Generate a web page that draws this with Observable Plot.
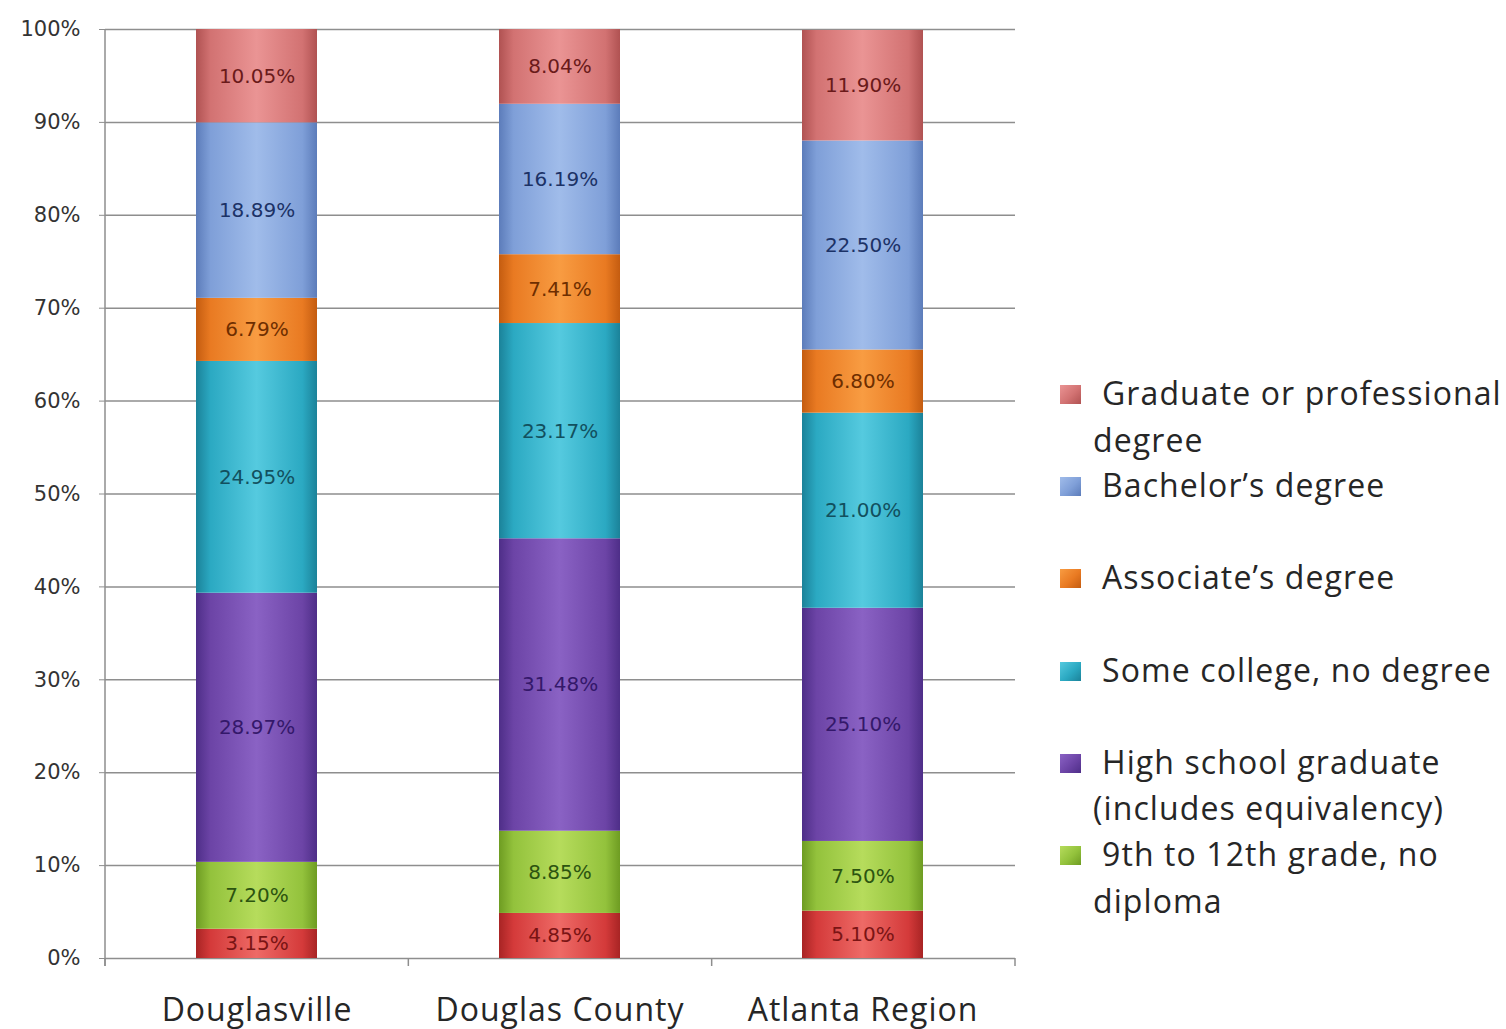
<!DOCTYPE html>
<html><head><meta charset="utf-8">
<script src="https://cdn.jsdelivr.net/npm/d3@7"></script>
<script src="https://cdn.jsdelivr.net/npm/@observablehq/plot@0.6"></script>
<style>
html,body{margin:0;padding:0;background:#fff;}
body{width:1506px;height:1029px;overflow:hidden;position:relative;font-family:"Open Sans",Lato,sans-serif;}
#chart{position:absolute;left:0;top:0;}
#legend{position:absolute;left:0;top:0;}
.entry{position:absolute;left:1060px;width:446px;height:92px;}
.sw{position:absolute;left:0;top:15px;width:21px;height:19px;}
.lbl{position:absolute;left:33px;top:0;font-size:32px;line-height:46.5px;color:#262626;text-indent:9px;white-space:nowrap;letter-spacing:1.1px;}
</style></head><body>
<div id="chart"></div><div id="legend"></div>
<script>
// ---- data ----
const places = ["Douglasville", "Douglas County", "Atlanta Region"];
const series = [
  "Less than 9th grade",
  "9th to 12th grade, no diploma",
  "High school graduate (includes equivalency)",
  "Some college, no degree",
  "Associate’s degree",
  "Bachelor’s degree",
  "Graduate or professional degree"
];
const douglasville  = [3.15, 7.20, 28.97, 24.95, 6.79, 18.89, 10.05];
const douglasCounty = [4.85, 8.85, 31.48, 23.17, 7.41, 16.19, 8.04];
const atlantaRegion = [5.10, 7.50, 25.10, 21.00, 6.80, 22.50, 11.90];
const yTicks = [0, 10, 20, 30, 40, 50, 60, 70, 80, 90, 100];
// legend (top to bottom), with the reference's line wraps
const legendOrder = [6, 5, 4, 3, 2, 1];
const legendLines = {
  6: ["Graduate or professional", "degree"],
  5: ["Bachelor’s degree"],
  4: ["Associate’s degree"],
  3: ["Some college, no degree"],
  2: ["High school graduate", "(includes equivalency)"],
  1: ["9th to 12th grade, no", "diploma"]
};

// ---- styles ----
const palette = [
  {base:"#d43a3a", light:"#ee6a66", dark:"#a82424", ink:"#7a1414"},
  {base:"#93c23c", light:"#b6dc5c", dark:"#6e9c22", ink:"#2c5410"},
  {base:"#6c44a6", light:"#8a62c4", dark:"#4e2e88", ink:"#34186a"},
  {base:"#2ba9c2", light:"#55cadf", dark:"#1b8299", ink:"#12505e"},
  {base:"#e97a22", light:"#f89c42", dark:"#c45c10", ink:"#6e2e00"},
  {base:"#7f9fd8", light:"#a0bcea", dark:"#5c7cba", ink:"#1c3266"},
  {base:"#d27272", light:"#ea9494", dark:"#b05252", ink:"#6a1a1a"}
];

const allValues = [douglasville, douglasCounty, atlantaRegion];
const data = [];
places.forEach((p, pi) => series.forEach((s, si) => data.push({place: p, series: s, idx: si, value: allValues[pi][si]})));

const chart = Plot.plot({
  width: 1040, height: 1029,
  marginLeft: 105, marginTop: 29, marginBottom: 71, marginRight: 25,
  style: {background: "transparent"},
  x: {domain: places, paddingInner: 0.6, paddingOuter: 0.3, align: 0.5, label: null},
  y: {domain: [0, 100], label: null},
  color: {type: "identity"},
  marks: [
    Plot.ruleY(yTicks, {stroke: "#8e8e8e", strokeWidth: 1.5}),
    Plot.axisY({ticks: yTicks, tickSize: 6, tickPadding: 19, tickFormat: d => d + "%",
      fontSize: 21, fontFamily: "DejaVu Sans", fill: "#333", stroke: "#8e8e8e", label: null}),
    Plot.axisX({tickSize: 0, tickPadding: 40, fontSize: 32, fontFamily: "Open Sans", fill: "#262626", label: null}),
    Plot.barY(data, {x: "place", y: "value", z: "series", fill: d => `url(#seg${d.idx})`}),
    Plot.text(data, Plot.stackY({x: "place", y: "value", z: "series",
      text: d => d.value.toFixed(2) + "%", fill: d => palette[d.idx].ink,
      fontSize: 20, fontFamily: "DejaVu Sans"}))
  ]
});
document.getElementById("chart").appendChild(chart);

// gradients + axis lines derived from the plot's scales
const svg = d3.select(chart);
svg.selectAll('[aria-label="x-axis tick label"] text').style("letter-spacing", "1px");
const defs = svg.insert("defs", ":first-child");
palette.forEach((c, i) => {
  const g = defs.append("linearGradient").attr("id", `seg${i}`).attr("x1", 0).attr("x2", 1).attr("y1", 0).attr("y2", 0);
  [[0, c.dark], [0.12, c.base], [0.5, c.light], [0.88, c.base], [1, c.dark]]
    .forEach(([o, col]) => g.append("stop").attr("offset", o).attr("stop-color", col));
});
const xs = chart.scale("x"), ys = chart.scale("y");
const [xa, xb] = xs.range;
const yBottom = ys.apply(0), yTop = ys.apply(100);
const axes = svg.append("g").attr("stroke", "#8e8e8e").attr("stroke-width", 1.5);
axes.append("line").attr("x1", xa).attr("x2", xa).attr("y1", yTop).attr("y2", yBottom + 8);
const stepW = (xb - xa) / places.length;
for (let k = 0; k <= places.length; k++) {
  const x = xa + k * stepW;
  axes.append("line").attr("x1", x).attr("x2", x).attr("y1", yBottom).attr("y2", yBottom + 8);
}

// legend
const legend = document.getElementById("legend");
legendOrder.forEach((si, k) => {
  const e = document.createElement("div");
  e.className = "entry";
  e.style.top = (370 + k * 92.2) + "px";
  const sw = document.createElement("div");
  sw.className = "sw";
  const c = palette[si];
  sw.style.background = `linear-gradient(135deg, ${c.light}, ${c.base} 55%, ${c.dark})`;
  const l = document.createElement("div");
  l.className = "lbl";
  l.innerHTML = legendLines[si].join("<br>");
  e.appendChild(sw); e.appendChild(l);
  legend.appendChild(e);
});
</script>
</body></html>
